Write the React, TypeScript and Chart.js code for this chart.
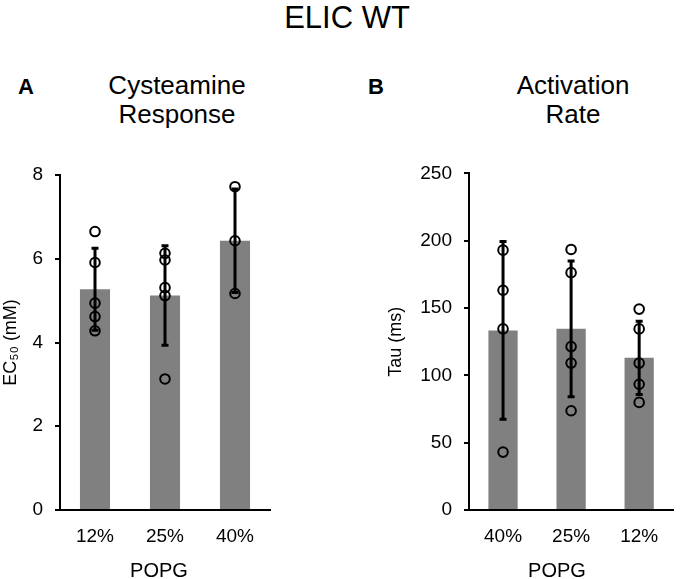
import React, { useEffect, useRef } from "react";
import { Chart, registerables } from "chart.js";

Chart.register(...registerables);

const FONT = "'Liberation Sans', Arial, Helvetica, sans-serif";

// Panel A: Cysteamine Response (EC50, mM)
const catsA = ["12%", "25%", "40%"];
const meansA = [5.27, 5.12, 6.43];
const sdA = [0.99, 1.2, 1.25];
const pointsA = [
  [6.65, 5.91, 4.94, 4.62, 4.28],
  [6.13, 5.97, 5.31, 5.12, 3.13],
  [7.72, 6.43, 5.17],
];
const ticksA = { max: 8, step: 2 };

// Panel B: Activation Rate (Tau, ms)
const catsB = ["40%", "25%", "12%"];
const meansB = [133.4, 134.6, 113];
const sdB = [66.3, 50.8, 27.6];
const pointsB = [
  [193, 163.2, 134.5, 43],
  [193.5, 176.3, 121.4, 109.1, 73.7],
  [149.2, 134.5, 109.1, 93.4, 79.9],
];
const ticksB = { max: 250, step: 50 };

const errorBarPlugin = {
  id: "errorBars",
  afterDatasetDraw(chart: any, args: any, opts: any) {
    if (args.meta.type !== "bar") return;
    const sds: number[] = opts.sd || [];
    const means: number[] = opts.means || [];
    const y = chart.scales.y;
    const ctx = chart.ctx;
    ctx.save();
    ctx.strokeStyle = "#000";
    ctx.lineWidth = 3;
    ctx.lineCap = "butt";
    args.meta.data.forEach((el: any, i: number) => {
      const x = el.x;
      const top = y.getPixelForValue(means[i] + sds[i]);
      const bot = y.getPixelForValue(means[i] - sds[i]);
      ctx.beginPath();
      ctx.moveTo(x, top);
      ctx.lineTo(x, bot);
      ctx.stroke();
      ctx.beginPath();
      ctx.moveTo(x - 3.5, top + 0.5);
      ctx.lineTo(x + 3.5, top + 0.5);
      ctx.moveTo(x - 3.5, bot - 0.5);
      ctx.lineTo(x + 3.5, bot - 0.5);
      ctx.stroke();
    });
    ctx.restore();
  },
};

type PanelProps = {
  cats: string[];
  means: number[];
  sds: number[];
  points: number[][];
  tick: { max: number; step: number };
  yTitle: string;
  width: number;
  height: number;
  pad: { left: number; top: number; right: number };
  yWidth: number;
  areaBottom: number;
  titlePad: number;
};

function Panel(p: PanelProps) {
  const ref = useRef<HTMLCanvasElement | null>(null);
  useEffect(() => {
    if (!ref.current) return;
    const scatter: any[] = [];
    p.points.forEach((vals, i) => vals.forEach((v) => scatter.push({ x: p.cats[i], y: v })));
    const chart = new Chart(ref.current, {
      type: "bar",
      data: {
        labels: p.cats,
        datasets: [
          {
            type: "line",
            data: scatter,
            showLine: false,
            order: 0,
            pointRadius: 4.8,
            pointHoverRadius: 4.8,
            pointBorderWidth: 2,
            pointBorderColor: "#000",
            pointBackgroundColor: "rgba(0,0,0,0)",
          } as any,
          {
            type: "bar",
            data: p.means,
            order: 1,
            backgroundColor: "#808080",
            borderWidth: 0,
            barPercentage: 0.43,
            categoryPercentage: 1,
          } as any,
        ],
      },
      options: {
        responsive: false,
        animation: false,
        events: [],
        layout: { padding: { left: p.pad.left, top: p.pad.top, right: p.pad.right, bottom: 0 } },
        plugins: {
          legend: { display: false },
          tooltip: { enabled: false },
          title: { display: false },
          errorBars: { sd: p.sds, means: p.means },
        } as any,
        scales: {
          x: {
            type: "category",
            offset: true,
            grid: { display: false, drawTicks: false, tickLength: 0 },
            border: { display: true, color: "#000", width: 2 },
            ticks: { color: "#000", font: { family: FONT, size: 19 }, padding: 15, maxRotation: 0 },
            afterFit: (s: any) => {
              s.height = p.height - p.areaBottom;
            },
          },
          y: {
            min: 0,
            max: p.tick.max,
            ticks: {
              stepSize: p.tick.step,
              color: "#000",
              font: { family: FONT, size: 19 },
              padding: 12,
            },
            grid: {
              display: true,
              drawOnChartArea: false,
              drawTicks: true,
              tickLength: 5,
              color: "#000",
              lineWidth: 2,
            },
            border: { display: true, color: "#000", width: 2 },
            title: {
              display: true,
              text: p.yTitle,
              color: "#000",
              font: { family: FONT, size: 18 },
              padding: { top: p.titlePad, bottom: 0 },
            },
            afterFit: (s: any) => {
              s.width = p.yWidth;
            },
          },
        },
      },
      plugins: [errorBarPlugin],
    });
    return () => chart.destroy();
  }, []);
  return <canvas ref={ref} width={p.width} height={p.height} style={{ display: "block", width: p.width, height: p.height }} />;
}

const textBase: React.CSSProperties = {
  position: "absolute",
  fontFamily: FONT,
  color: "#000",
  whiteSpace: "nowrap",
  margin: 0,
};

export default function App() {
  return (
    <div style={{ position: "fixed", left: 0, top: 0, width: 680, height: 579, background: "#fff", overflow: "hidden" }}>
      <div style={{ ...textBase, left: 347, top: 1.7, fontSize: 31, lineHeight: "31px", transform: "translateX(-50%)" }}>ELIC WT</div>
      <div style={{ ...textBase, left: 18, top: 76, fontSize: 22, lineHeight: "22px", fontWeight: "bold" }}>A</div>
      <div style={{ ...textBase, left: 368, top: 76, fontSize: 22, lineHeight: "22px", fontWeight: "bold" }}>B</div>
      <div style={{ ...textBase, left: 177, top: 70.5, fontSize: 26, lineHeight: "29px", textAlign: "center", transform: "translateX(-50%)" }}>
        Cysteamine<br />Response
      </div>
      <div style={{ ...textBase, left: 573, top: 70.5, fontSize: 26, lineHeight: "29px", textAlign: "center", transform: "translateX(-50%)" }}>
        Activation<br />Rate
      </div>
      <div style={{ position: "absolute", left: 0, top: 150 }}>
        <Panel
          cats={catsA}
          means={meansA}
          sds={sdA}
          points={pointsA}
          tick={ticksA}
          yTitle="EC₅₀ (mM)"
          width={300}
          height={429}
          pad={{ left: 0, top: 25, right: 30 }}
          yWidth={60}
          areaBottom={360}
          titlePad={0}
        />
      </div>
      <div style={{ position: "absolute", left: 340, top: 150 }}>
        <Panel
          cats={catsB}
          means={meansB}
          sds={sdB}
          points={pointsB}
          tick={ticksB}
          yTitle="Tau (ms)"
          width={340}
          height={429}
          pad={{ left: 41, top: 21, right: 1 }}
          yWidth={88}
          areaBottom={360}
          titlePad={4}
        />
      </div>
      <div style={{ ...textBase, left: 159, top: 560, fontSize: 20, lineHeight: "20px", transform: "translateX(-50%)" }}>POPG</div>
      <div style={{ ...textBase, left: 557, top: 560, fontSize: 20, lineHeight: "20px", transform: "translateX(-50%)" }}>POPG</div>
    </div>
  );
}
